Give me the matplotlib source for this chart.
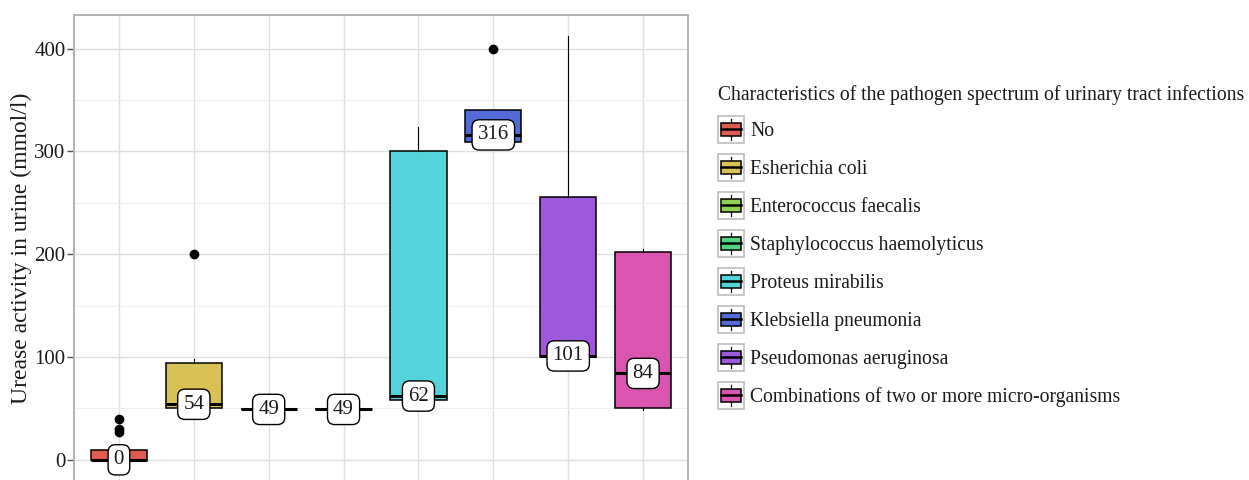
import matplotlib
matplotlib.use("Agg")
import matplotlib.pyplot as plt
from matplotlib.legend_handler import HandlerBase
from matplotlib.patches import Rectangle, Patch
from matplotlib.lines import Line2D
from matplotlib.ticker import MultipleLocator

plt.rcParams['font.family'] = ['Liberation Serif', 'DejaVu Serif']

# Pathogen groups and their urease activity summaries (mmol/l)
groups = ["No", "Esherichia coli", "Enterococcus faecalis",
          "Staphylococcus haemolyticus", "Proteus mirabilis",
          "Klebsiella pneumonia", "Pseudomonas aeruginosa",
          "Combinations of two or more micro-organisms"]
q1 = [0, 50, 49, 49, 58, 309, 100, 50]
median = [0, 54, 49, 49, 62, 316, 101, 84]
q3 = [10, 94, 49, 49, 300, 340, 256, 202]
whisker_low = [0, 50, 49, 49, 55, 309, 100, 48]
whisker_high = [10, 98, 49, 49, 324, 340, 412, 205]
outliers = [[27, 30, 40], [200], [], [], [], [400], [], []]
fills = ["#DF5C50", "#D8C256", "#8ED34F", "#4FD57D",
         "#55D3DA", "#526BD9", "#9E58DB", "#DA55AF"]

legend_title = "Characteristics of the pathogen spectrum of urinary tract infections"
y_title = "Urease activity in urine (mmol/l)"

W, H = 1249, 480
fig = plt.figure(figsize=(W / 100, H / 100), dpi=100)
ax = fig.add_axes([74 / W, -1 / H, (688 - 74) / W, (481 - 15) / H])

stats = []
for i in range(len(groups)):
    stats.append(dict(med=median[i], q1=q1[i], q3=q3[i],
                      whislo=whisker_low[i], whishi=whisker_high[i],
                      fliers=outliers[i]))

positions = list(range(1, len(groups) + 1))
bp = ax.bxp(stats, positions=positions, widths=0.75, patch_artist=True,
            showcaps=False,
            boxprops=dict(edgecolor="black", linewidth=1.1),
            medianprops=dict(color="black", linewidth=2.2, solid_capstyle="butt"),
            whiskerprops=dict(color="black", linewidth=0.8),
            flierprops=dict(marker="o", markerfacecolor="black",
                            markeredgecolor="black", markersize=6),
            zorder=3)
for patch, c in zip(bp["boxes"], fills):
    patch.set_facecolor(c)

# Median value labels
for x, m in zip(positions, median):
    ax.text(x, m, f"{m:g}", ha="center", va="center", fontsize=15,
            color="#1a1a1a", zorder=5,
            bbox=dict(boxstyle="round,pad=0.27,rounding_size=0.35",
                      facecolor="white", edgecolor="black", linewidth=1.0))

ax.set_xlim(0.4, len(groups) + 0.6)
ax.set_ylim(-20.6, 432.6)
ax.set_xticks(positions)
ax.set_xticklabels([])
ax.tick_params(axis="x", length=0)
ax.yaxis.set_major_locator(MultipleLocator(100))
ax.yaxis.set_minor_locator(MultipleLocator(50))
ax.tick_params(axis="y", which="major", length=5, width=1, color="#4d4d4d",
               labelsize=15, labelcolor="#1a1a1a", pad=1)
ax.tick_params(axis="y", which="minor", length=0)
ax.grid(True, which="major", color="#DEDEDE", linewidth=1.0, zorder=0)
ax.grid(True, which="minor", axis="y", color="#EFEFEF", linewidth=0.7, zorder=0)
ax.set_axisbelow(True)
for s in ax.spines.values():
    s.set_color("#B3B3B3")
    s.set_linewidth(1.4)

ax.set_ylabel(y_title, fontsize=17, color="#1a1a1a")
ax.yaxis.set_label_coords(-0.068, 0.5)


class BoxKeyHandler(HandlerBase):
    def create_artists(self, legend, orig_handle, xdescent, ydescent,
                       width, height, fontsize, trans):
        x0, y0 = -xdescent, -ydescent
        frame = Rectangle((x0, y0), width, height, facecolor="white",
                          edgecolor="#BDBDBD", linewidth=1.2, transform=trans)
        bx0, bw = x0 + 0.12 * width, 0.76 * width
        by0, bh = y0 + 0.25 * height, 0.50 * height
        box = Rectangle((bx0, by0), bw, bh,
                        facecolor=orig_handle.get_facecolor(),
                        edgecolor="black", linewidth=1.1, transform=trans)
        cx = x0 + width / 2
        med = Line2D([bx0, bx0 + bw], [y0 + height / 2] * 2, color="black",
                     linewidth=1.8, transform=trans)
        wt = Line2D([cx, cx], [by0 + bh, y0 + 0.9 * height], color="black",
                    linewidth=0.9, transform=trans)
        wb = Line2D([cx, cx], [y0 + 0.1 * height, by0], color="black",
                    linewidth=0.9, transform=trans)
        return [frame, wt, wb, box, med]


handles = [Patch(facecolor=c) for c in fills]
leg_fs = 14.1
fs_px = leg_fs * 100 / 72
key_h = 27 / fs_px
leg = fig.legend(handles, groups, handler_map={Patch: BoxKeyHandler()},
                 loc="upper left", bbox_to_anchor=(718 / W, 1 - 85 / H),
                 frameon=False, fontsize=leg_fs, title=legend_title,
                 title_fontsize=leg_fs, alignment="left", borderpad=0,
                 borderaxespad=0, handlelength=26 / fs_px,
                 handleheight=(key_h - 0.245) / 0.65,
                 handletextpad=6 / fs_px,
                 labelspacing=11 / fs_px)
for t in leg.get_texts():
    t.set_color("#1a1a1a")
leg.get_title().set_color("#1a1a1a")

fig.savefig("out.png", dpi=100)
